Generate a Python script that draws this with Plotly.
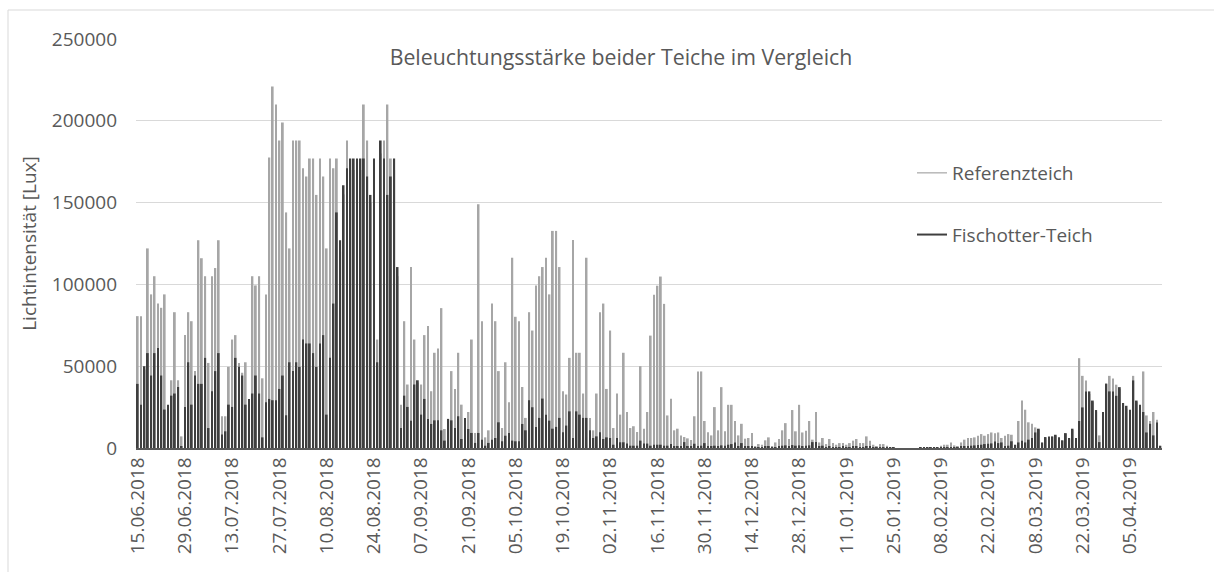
import pandas as pd
import plotly.graph_objects as go

# categories: one per day, 15.06.2018 .. 14.04.2019
start_date = "2018-06-15"
n_days = 304
dates = [d.strftime("%d.%m.%Y") for d in pd.date_range(start_date, periods=n_days, freq="D")]
tick_labels = dates[::14]

referenzteich = [
    80600, 80600, 48000, 122000, 93900, 105000, 88300, 85700, 93900, 25000,
    41400, 83000, 41400, 7100, 69000, 83000, 77500, 47000, 127000, 116000,
    105000, 52000, 105000, 110000, 127000, 19400, 19400, 49600, 66300, 69000,
    52000, 46000, 52400, 28000, 105000, 99400, 105000, 42600, 93900, 177500,
    221000, 210000, 188000, 199000, 144000, 122000, 188000, 188000, 188000, 171000,
    166000, 177000, 177000, 154700, 177000, 166000, 122000, 177000, 171000, 177000,
    120000, 155000, 188000, 170000, 170000, 170000, 170000, 210000, 188000, 150000,
    170000, 66300, 180000, 188000, 210000, 177000, 170000, 105000, 26500, 77500,
    38800, 110600, 66300, 40000, 38800, 69000, 74500, 34700, 58200, 60800,
    85500, 11600, 17000, 47000, 36100, 58200, 26500, 18000, 22000, 66300,
    9200, 149000, 77500, 6500, 10800, 88300, 77500, 47000, 12200, 52400,
    28000, 116300, 80200, 77500, 37300, 18400, 83000, 71800, 99400, 105000,
    110600, 116300, 93900, 132700, 132700, 110600, 34700, 32700, 55100, 127200,
    58200, 58200, 33300, 116300, 18400, 10800, 33300, 83000, 88300, 36100,
    71800, 12200, 33300, 20400, 58200, 22000, 12200, 13300, 9800, 50000,
    11800, 22000, 68700, 93600, 99200, 104800, 88100, 19900, 30100, 10800,
    11800, 7700, 6700, 5900, 4900, 19400, 46800, 46800, 16500, 9600,
    7700, 25000, 10800, 37200, 10200, 26400, 26400, 16500, 7700, 14800,
    5700, 6100, 9100, 1000, 2400, 2000, 4700, 6500, 1000, 3400,
    5500, 10800, 15200, 5500, 23200, 10200, 26400, 9500, 10600, 16500,
    5100, 22000, 3400, 6100, 2400, 5500, 3000, 2000, 3000, 3000,
    2000, 3000, 4500, 5500, 3000, 3000, 7100, 4500, 2000, 1000,
    2400, 2400, 1400, 600, 600, 0, 0, 0, 0, 0,
    0, 0, 400, 400, 200, 300, 400, 600, 1400, 2000,
    2000, 3400, 1600, 1000, 3400, 5100, 6100, 6100, 6500, 7500,
    8500, 7500, 8500, 9500, 9000, 9500, 6100, 7500, 8500, 8100,
    1800, 16500, 29000, 23400, 15700, 14800, 12600, 11000, 3000, 6000,
    6500, 6800, 7500, 6000, 4500, 8500, 5500, 11000, 5500, 54900,
    44100, 41300, 33000, 28000, 22000, 7700, 21000, 39700, 44100, 42500,
    38700, 36000, 26000, 24000, 22000, 44100, 28000, 25000, 46800, 19900,
    16500, 22000, 17300, 1000,
]

fischotter_teich = [
    39200, 26500, 50000, 58000, 44300, 58000, 61200, 44300, 23500, 26500,
    32000, 33300, 37300, 1000, 25100, 52400, 26500, 44300, 39200, 39200,
    55100, 12200, 34700, 47000, 58000, 8200, 10200, 26500, 25100, 55100,
    49600, 44300, 26500, 30000, 33300, 44300, 33300, 6500, 28000, 30000,
    29200, 29200, 36100, 44300, 20000, 52400, 47000, 52400, 49600, 66300,
    63900, 63900, 58000, 49600, 63900, 69000, 20400, 55100, 88300, 144000,
    127000, 160600, 171000, 177000, 177000, 177000, 177000, 177000, 166000, 154700,
    177000, 52400, 188000, 177000, 154700, 166000, 177000, 110600, 12200, 32000,
    25100, 16700, 38800, 41400, 20400, 30000, 17800, 14700, 16900, 16900,
    10800, 4500, 17800, 16900, 12200, 19400, 5500, 18400, 11600, 9200,
    3100, 9200, 5100, 1400, 3100, 5100, 6100, 15700, 4100, 7500,
    9200, 4500, 4100, 4100, 14700, 10800, 29200, 24900, 12900, 18400,
    30200, 20400, 16700, 11800, 12900, 18400, 9600, 13700, 22400, 6100,
    22400, 20400, 18400, 18400, 10800, 6100, 7100, 9600, 5500, 6500,
    6100, 2000, 6100, 3500, 3500, 2700, 1400, 1400, 1400, 4500,
    2700, 2700, 1400, 2000, 2000, 2000, 1400, 1400, 2400, 1000,
    1200, 1000, 3600, 1000, 900, 2600, 1000, 1400, 3000, 1200,
    1000, 1400, 1000, 1600, 1400, 2000, 2400, 3400, 1200, 3000,
    1000, 800, 1000, 300, 500, 400, 800, 1000, 300, 600,
    900, 1400, 1600, 1000, 1800, 1400, 1600, 1200, 1400, 1600,
    3600, 3600, 1000, 1400, 600, 800, 600, 500, 600, 700,
    500, 600, 800, 900, 600, 600, 1000, 800, 500, 300,
    500, 500, 400, 200, 200, 0, 0, 0, 0, 0,
    0, 0, 100, 100, 50, 100, 100, 200, 300, 400,
    400, 600, 400, 300, 800, 1000, 1200, 1400, 1600, 1800,
    2000, 2400, 2600, 2800, 4000, 3000, 3400, 1000, 1400, 4100,
    2000, 3400, 4500, 3400, 5100, 6100, 9500, 11800, 3400, 6700,
    7100, 7100, 8100, 6500, 4700, 9100, 6100, 11800, 6100, 16500,
    24800, 34600, 34600, 29000, 23200, 3600, 22000, 39100, 34600, 34600,
    31900, 37200, 27500, 25800, 23400, 41300, 29000, 26400, 22000, 9500,
    14800, 7700, 15600, 1400,
]

series_names = ["Referenzteich", "Fischotter-Teich"]
colors = ["#a6a6a6", "#3f3f3f"]

FONT = "Open Sans"
TXT = "#595959"

fig = go.Figure()
for name, vals, col in zip(series_names, [referenzteich, fischotter_teich], colors):
    fig.add_trace(go.Bar(x=dates, y=vals, name=name, marker=dict(color=col, line=dict(width=0)),
                         showlegend=False, hoverinfo="x+y+name"))
for i, (name, col) in enumerate(zip(series_names, colors)):
    fig.add_trace(go.Scatter(x=[None], y=[None], mode="lines", name=name,
                             line=dict(color=col, width=1.2 if i == 0 else 2),
                             legendgroup=name, showlegend=True))

W, H = 1214, 572
L, R, T, B = 136, 52, 39, 124
pw, ph = W - L - R, H - T - B

def px_x(x):
    return (x - L) / pw

def px_y(y):
    return (H - B - y) / ph

fig.update_layout(
    width=W, height=H,
    margin=dict(l=L, r=R, t=T, b=B, pad=0),
    paper_bgcolor="white", plot_bgcolor="white",
    barmode="overlay", bargap=0.45,
    font=dict(family=FONT, color=TXT, size=19),
    title=dict(text="Beleuchtungsstärke beider Teiche im Vergleich",
               font=dict(family=FONT, size=21.3, color=TXT),
               xref="paper", x=px_x(621), xanchor="center",
               yref="container", y=1 - 58 / H, yanchor="middle"),
    legend=dict(x=px_x(912), y=px_y(154), xanchor="left", yanchor="top",
                bgcolor="rgba(0,0,0,0)", font=dict(size=19, color=TXT, family=FONT),
                tracegroupgap=34, itemwidth=30),
    shapes=[dict(type="rect", xref="paper", yref="paper",
                 x0=px_x(8), x1=px_x(1222), y0=px_y(585), y1=px_y(10),
                 line=dict(color="#d9d9d9", width=1), fillcolor="rgba(0,0,0,0)", layer="below")],
)
fig.update_xaxes(type="category", categoryorder="array", categoryarray=dates,
                 range=[-0.5, n_days - 0.5], tickmode="array", tickvals=tick_labels,
                 ticktext=tick_labels, tickangle=-90, showgrid=False, ticks="",
                 showline=True, linecolor="#595959", linewidth=1.5,
                 tickfont=dict(size=19, color=TXT, family=FONT))
fig.update_yaxes(range=[0, 250000], dtick=50000, tickformat="d", showgrid=True,
                 gridcolor="#d9d9d9", gridwidth=1, zeroline=False, ticks="",
                 ticklabelstandoff=18, tickfont=dict(size=19, color=TXT, family=FONT),
                 title=dict(text="Lichtintensität [Lux]", standoff=10,
                            font=dict(size=19, color=TXT, family=FONT)))

fig.write_html("out.html", config={"displayModeBar": False},
               post_script="document.body.style.margin='0';")
